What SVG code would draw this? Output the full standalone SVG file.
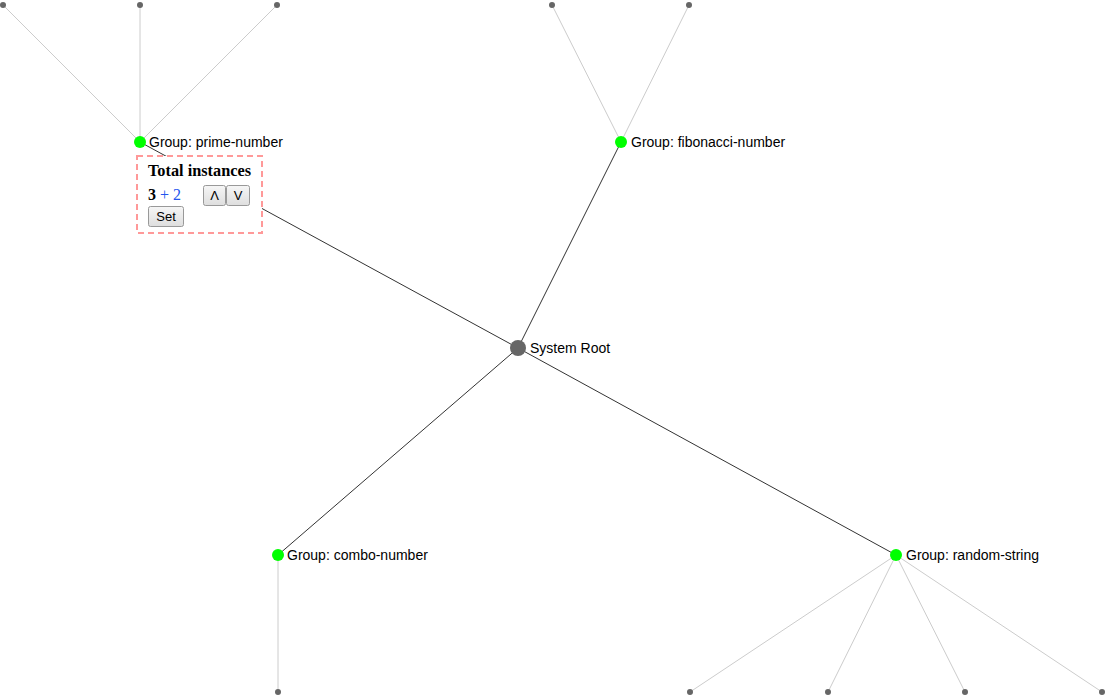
<svg xmlns="http://www.w3.org/2000/svg" width="1109" height="699" viewBox="0 0 1109 699">
<style>
.main{stroke:#333;stroke-width:1;fill:none}
.sub{stroke:#ccc;stroke-width:1;fill:none}
.leaf{fill:#666}
.grp{fill:#00ff00}
.root{fill:#666}
.lbl{font-family:"Liberation Sans",Arial,sans-serif;font-size:14px;fill:#000}
.btn{fill:url(#bg);stroke:#999;stroke-width:1}
.btxt{font-family:"Liberation Sans",Arial,sans-serif;font-size:13px;fill:#000;text-anchor:middle}
</style>
<defs>
<linearGradient id="bg" x1="0" y1="0" x2="0" y2="1">
<stop offset="0" stop-color="#f6f6f6"/>
<stop offset="1" stop-color="#dedede"/>
</linearGradient>
</defs>
<rect width="1109" height="699" fill="#fff"/>
<g id="connectors">
<line class="sub" x1="140" y1="142" x2="3" y2="5"/>
<line class="sub" x1="140" y1="142" x2="140" y2="5"/>
<line class="sub" x1="140" y1="142" x2="277" y2="5"/>
<line class="sub" x1="621" y1="142" x2="552" y2="5"/>
<line class="sub" x1="621" y1="142" x2="689" y2="5"/>
<line class="sub" x1="278" y1="555" x2="278" y2="692"/>
<line class="sub" x1="896" y1="555" x2="690" y2="692"/>
<line class="sub" x1="896" y1="555" x2="828" y2="692"/>
<line class="sub" x1="896" y1="555" x2="965" y2="692"/>
<line class="sub" x1="896" y1="555" x2="1102" y2="692"/>
<line class="main" x1="518" y1="348" x2="140" y2="142"/>
<line class="main" x1="518" y1="348" x2="621" y2="142"/>
<line class="main" x1="518" y1="348" x2="278" y2="555"/>
<line class="main" x1="518" y1="348" x2="896" y2="555"/>
</g>
<g id="leaves">
<circle class="leaf" cx="3" cy="5" r="3"/>
<circle class="leaf" cx="140" cy="5" r="3"/>
<circle class="leaf" cx="277" cy="5" r="3"/>
<circle class="leaf" cx="552" cy="5" r="3"/>
<circle class="leaf" cx="689" cy="5" r="3"/>
<circle class="leaf" cx="278" cy="692" r="3"/>
<circle class="leaf" cx="690" cy="692" r="3"/>
<circle class="leaf" cx="828" cy="692" r="3"/>
<circle class="leaf" cx="965" cy="692" r="3"/>
<circle class="leaf" cx="1102" cy="692" r="3"/>
</g>
<g id="root">
<circle class="root" cx="518" cy="348" r="8"/>
<text class="lbl" x="530" y="353">System Root</text>
</g>
<g id="group-prime-number">
<circle class="grp" cx="140" cy="142" r="6"/>
<text class="lbl" x="149" y="147">Group: prime-number</text>
</g>
<g id="group-fibonacci-number">
<circle class="grp" cx="621" cy="142" r="6"/>
<text class="lbl" x="631" y="147">Group: fibonacci-number</text>
</g>
<g id="group-combo-number">
<circle class="grp" cx="278" cy="555" r="6"/>
<text class="lbl" x="287" y="560">Group: combo-number</text>
</g>
<g id="group-random-string">
<circle class="grp" cx="896" cy="555" r="6"/>
<text class="lbl" x="906" y="560">Group: random-string</text>
</g>
<g id="instances-panel">
<rect x="137" y="156" width="125" height="77" fill="#fff" stroke="#f99" stroke-width="2" stroke-dasharray="6,4"/>
<text x="148" y="176" font-family="Liberation Serif,Times New Roman,serif" font-size="16.3" font-weight="bold" fill="#000">Total instances</text>
<text x="148" y="200" font-family="Liberation Serif,Times New Roman,serif" font-size="16"><tspan font-weight="bold" fill="#000">3</tspan><tspan fill="#2255ee"> + 2</tspan></text>
<rect class="btn" x="203.5" y="185.5" width="22" height="20" rx="2"/>
<text class="btxt" x="214.5" y="200">Λ</text>
<rect class="btn" x="226.5" y="185.5" width="23" height="20" rx="2"/>
<text class="btxt" x="238" y="200">V</text>
<rect class="btn" x="148.5" y="206.5" width="35" height="20" rx="2"/>
<text class="btxt" x="166" y="221">Set</text>
</g>
</svg>
